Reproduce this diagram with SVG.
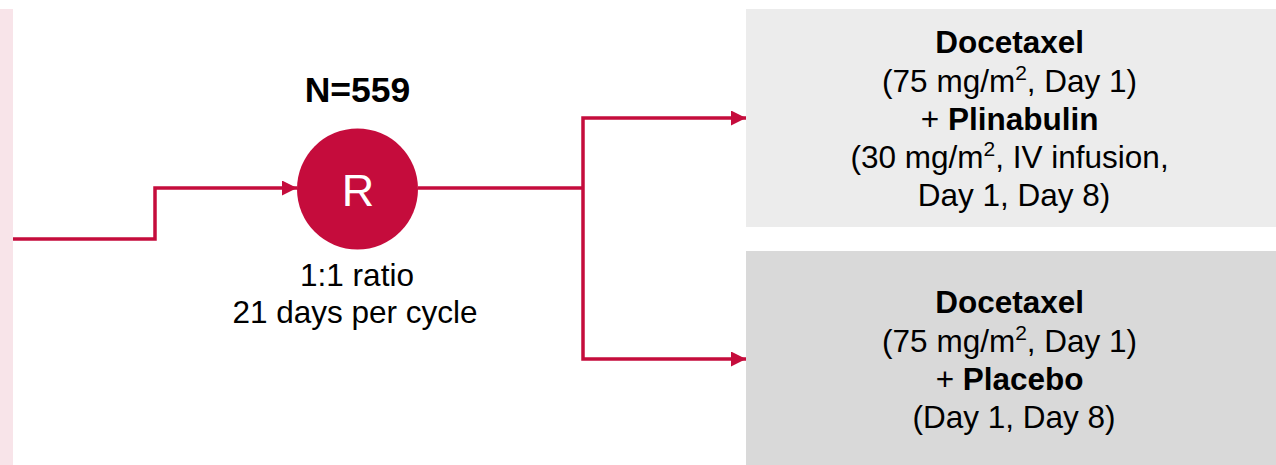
<svg xmlns="http://www.w3.org/2000/svg" width="1276" height="465" viewBox="0 0 1276 465">
  <style>
    text { font-family: "Liberation Sans", Arial, sans-serif; fill: #000; text-anchor: middle; }
    .b { font-weight: bold; }
    .conn { fill: none; stroke: #c50c3c; stroke-width: 3.5; }
    .sup { font-size: 21px; }
  </style>
  <defs>
    <marker id="arrow" viewBox="0 0 15 15" refX="15" refY="7.5" markerWidth="15" markerHeight="15" markerUnits="userSpaceOnUse" orient="auto">
      <path d="M0,0 L15,7.5 L0,15 Z" fill="#c50c3c"/>
    </marker>
  </defs>

  <rect id="side-band" x="0" y="9" width="13" height="456" fill="#f8e4e9"/>

  <g id="connectors">
    <path class="conn" d="M13,239 H155 V188 H297" marker-end="url(#arrow)"/>
    <path class="conn" d="M418,188 H583"/>
    <path class="conn" d="M583,188 V118 H746" marker-end="url(#arrow)"/>
    <path class="conn" d="M583,188 V359 H746" marker-end="url(#arrow)"/>
  </g>

  <g id="randomisation">
    <text class="b" x="357.5" y="102" font-size="35.5">N=559</text>
    <circle cx="357.5" cy="189" r="60.5" fill="#c50c3c"/>
    <text x="358" y="205.5" font-size="45" style="fill:#fff">R</text>
    <text x="357" y="286" font-size="31.5">1:1 ratio</text>
    <text x="355" y="323" font-size="31.5">21 days per cycle</text>
  </g>

  <g id="arm-plinabulin">
    <rect x="746" y="9" width="530" height="218" fill="#ececec"/>
    <text font-size="31.5">
      <tspan class="b" x="1014" y="53">Docetaxel</tspan>
      <tspan x="1014" y="92">(75 mg/m<tspan class="sup" dy="-12">2</tspan><tspan dy="12">, Day 1)</tspan></tspan>
      <tspan x="1014" y="130">+ <tspan class="b">Plinabulin</tspan></tspan>
      <tspan x="1014" y="168">(30 mg/m<tspan class="sup" dy="-12">2</tspan><tspan dy="12">, IV infusion,</tspan></tspan>
      <tspan x="1014" y="206">Day 1, Day 8)</tspan>
    </text>
  </g>

  <g id="arm-placebo">
    <rect x="746" y="251" width="530" height="214" fill="#d9d9d9"/>
    <text font-size="31.5">
      <tspan class="b" x="1014" y="313">Docetaxel</tspan>
      <tspan x="1014" y="352">(75 mg/m<tspan class="sup" dy="-12">2</tspan><tspan dy="12">, Day 1)</tspan></tspan>
      <tspan x="1014" y="390">+ <tspan class="b">Placebo</tspan></tspan>
      <tspan x="1014" y="428">(Day 1, Day 8)</tspan>
    </text>
  </g>
</svg>
